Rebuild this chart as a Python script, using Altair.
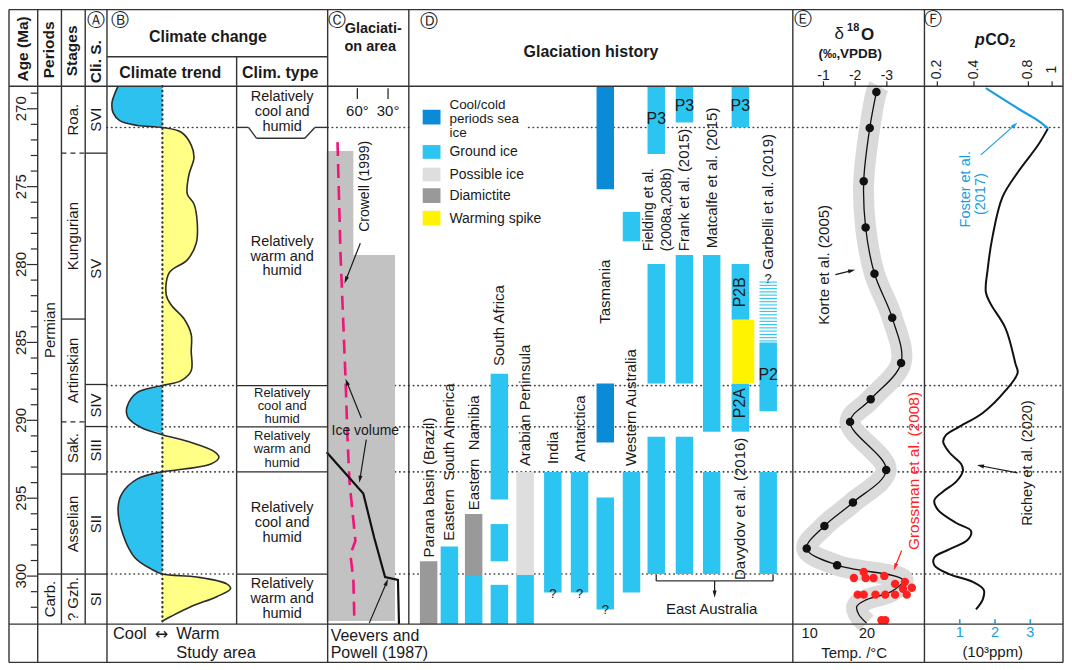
import altair as alt
import numpy as np
import pandas as pd

# ======================= values =======================
age_major = [270, 275, 280, 285, 290, 295, 300]
age_minor = list(range(269, 303))
AGE_TOP_DATA, AGE_BOT_DATA = 268.55, 303.08

period_names = ["Permian", "Carb."]
period_bounds = [268.55, 299.87, 303.08]

stage_names = ["Roa.", "Kungurian", "Artinskian", "Sak.", "Asselian", "? Gzh."]
stage_bounds = [268.55, 272.85, 283.5, 290.1, 293.45, 299.87, 303.08]
stage_dashed = [True, False, True, False, False]

clis_names = ["SVI", "SV", "SIV", "SIII", "SII", "SI"]
clis_bounds = [268.55, 272.85, 287.7, 290.4, 293.45, 299.87, 303.08]

clim_bounds = [271.20, 287.77, 290.42, 293.31, 299.87]
clim_kind = ["cool", "warm", "cool", "warm", "cool", "warm"]

# climate trend (negative = cool, positive = warm), relative index
clim_age = [268.55, 269.18, 269.62, 270.25, 270.76, 271.07, 271.20,
            271.51, 272.33, 273.15, 274.22, 275.48, 276.11, 277.37, 278.63, 279.70,
            280.52, 281.97, 282.60, 283.48, 284.49, 285.56, 286.82, 287.45, 287.77,
            288.21, 289.16, 289.79, 290.48, 290.92,
            291.42, 291.99, 292.37, 292.81, 293.13, 293.31,
            293.76, 294.70, 295.65, 297.35, 298.80, 299.55, 299.87,
            300.06, 300.50, 300.81, 301.32, 301.95, 302.58, 302.89]
clim_val = [-0.80, -0.875, -0.91, -0.89, -0.77, -0.45, 0.0,
            0.34, 0.52, 0.57, 0.48, 0.45, 0.57, 0.63, 0.61, 0.45,
            0.125, 0.07, 0.16, 0.39, 0.52, 0.52, 0.52, 0.34, 0.0,
            -0.45, -0.64, -0.625, -0.375, 0.0,
            0.52, 0.93, 1.02, 0.875, 0.39, 0.0,
            -0.45, -0.73, -0.80, -0.71, -0.50, -0.20, 0.0,
            0.625, 1.16, 1.23, 0.98, 0.52, 0.16, 0.0]

# glaciation area (latitude, degrees)
glac_top = [272.71, 279.39]
glac_bottom = [279.39, 302.89]
glac_lat = [63.9, 23.2]
crowell_age = [272.14, 279.3, 287.26, 291.05, 293.95, 297.73, 298.61, 300.25, 302.89]
crowell_lat = [79.4, 76.5, 71.6, 69.7, 67.7, 61.9, 66.8, 63.9, 62.9]
veevers_age = [292.05, 294.70, 297.54, 300.06, 300.25, 303.08]
veevers_lat = [90.0, 54.2, 43.5, 32.9, 20.3, 19.3]
lat_ticks = [60, 30]

# glaciation history
hist_regions = ["Parana basin (Brazil)", "Eastern\u00a0 South America", "Eastern\u00a0 Namibia",
                "South Africa", "Arabian Peninsula", "India", "Antarctica", "Tasmania",
                "Western Australia", "Fielding et al. (2008a,208b)", "Frank et al. (2015)",
                "Matcalfe et al. (2015)", "Davydov et al. (2016)", "Garbelli et al. (2019)"]
ice_types = ["Cool/cold periods sea ice", "Ground ice", "Possible ice", "Diamictite", "Warming spike"]
type_code = {"S": ice_types[0], "G": ice_types[1], "P": ice_types[2], "D": ice_types[3], "W": ice_types[4]}
bar_col = [0, 1, 2, 2, 3, 3, 3, 4, 4, 5, 6, 7, 7, 7, 8, 8, 9, 9, 9, 10, 10, 10, 11, 11, 12, 12, 12, 12, 13, 13]
bar_start = [299.05, 298.10, 296.02, 299.99, 287.01, 296.66, 300.56, 293.31, 299.93, 293.31, 293.31,
             268.55, 287.64, 294.95, 276.62, 293.31, 268.55, 279.96, 291.05, 268.55, 279.39, 291.05,
             279.39, 293.31, 268.55, 279.96, 283.55, 287.64, 285.00, 293.31]
bar_end = [303.08, 303.08, 299.99, 303.08, 295.08, 299.05, 303.08, 299.93, 303.08, 301.06, 301.06,
           275.17, 291.42, 302.14, 278.51, 301.06, 272.90, 287.64, 299.87, 270.88, 287.64, 299.87,
           290.73, 299.87, 271.20, 283.55, 287.64, 290.73, 289.41, 299.87]
bar_type = ["D", "G", "D", "G", "G", "G", "G", "P", "G", "G", "G",
            "S", "S", "G", "G", "G", "G", "G", "G", "G", "G", "G",
            "G", "G", "G", "G", "W", "G", "G", "G"]
garbelli_hatch = (281.09, 284.93)

# delta18O (permil VPDB)
korte_age = [268.93, 271.24, 274.66, 277.62, 280.59, 283.42, 286.32, 288.65, 290.10,
             293.19, 295.27, 296.78, 298.23, 299.30]
korte_d18o = [-2.67, -2.46, -2.27, -2.33, -2.61, -3.17, -3.45, -2.49, -1.84,
              -2.98, -1.93, -1.03, -0.47, -1.43]
trend_tail_age = [300.25, 301.00, 301.51, 301.95, 302.45, 303.02]
trend_tail_d18o = [-3.51, -3.14, -2.36, -2.05, -2.11, -2.36]
band_head_age, band_head_d18o = [268.55], [-2.75]
gross_age = [300.12, 299.74, 300.12, 300.12, 299.99, 300.50, 300.37, 300.81, 300.75,
             301.19, 301.19, 301.19, 301.19, 301.19, 301.19, 302.83, 302.83]
gross_d18o = [-1.96, -2.27, -2.33, -2.58, -2.92, -3.26, -3.57, -3.51, -3.79,
              -3.63, -2.08, -2.27, -2.64, -2.95, -3.26, -2.83, -2.95]
d18o_ticks = [-1, -2, -3]
temp_ticks = [10, 20]

# pCO2 (10^3 ppm)
foster_age = [268.68, 270.00, 270.76, 271.26]
foster_pco2 = [1.74, 2.66, 3.22, 3.50]
richey_age = [271.26, 272.33, 274.03, 275.67, 278.19, 280.33, 281.78, 282.54, 284.11, 286.38,
              286.95, 288.08, 289.53, 290.42, 290.92, 291.36, 292.05, 292.81, 293.25, 293.94,
              294.57, 295.14, 295.77, 296.59, 297.10, 297.66, 298.29, 298.80, 299.30, 299.87,
              300.37, 300.88, 301.51, 302.14]
richey_pco2 = [3.50, 3.22, 2.66, 2.21, 1.93, 1.79, 1.74, 1.88, 2.30, 2.58,
               2.64, 2.30, 1.65, 0.98, 0.62, 0.53, 0.70, 1.04, 1.09, 0.90,
               0.53, 0.28, 0.39, 0.90, 1.32, 1.23, 0.70, 0.28, 0.28, 0.70,
               1.37, 1.68, 1.65, 1.46]
pco2_bottom_ticks = [1, 2, 3]
pco2_top_ticks = [0.2, 0.4, 0.8, 1]
pco2_top_labels = ["0.2", "0.4", "0.8", "1"]

# ============================ layout & styles ============================
W, H = 1058, 656
def PX(v): return 1 + (v - 3) * (W - 2) / 1065.0
def PY(v): return 1 + (v - 2) * (H - 2) / 665.0
def AGE(ypx): return 270.0 + (ypx - 103.0) / 15.87

FONT = "Liberation Sans"
INK = "#1a1a1a"
LINE = "#2b2b2b"
COOL = "#2CC1EE"
WARM = "#FFFF85"
RED = "#FF2020"
BLUE = "#1A9CE0"
PINK = "#EE1679"
ice_colors = ["#0B8AD8", "#2CC4F1", "#DEDEDE", "#999999", "#FFF300"]

SX = alt.Scale(domain=[3, 1068], range=[PX(3), PX(1068)], nice=False, zero=False)
SY = alt.Scale(domain=[2, 667], range=[PY(2), PY(667)], nice=False, zero=False)
SA = alt.Scale(domain=[AGE(2), AGE(667)], range=[PY(2), PY(667)], nice=False, zero=False)
SC = alt.Scale(domain=[-1, 1], range=[PX(102), PX(214)], nice=False, zero=False)
SL = alt.Scale(domain=[90, 30], range=[PX(324), PX(386)], nice=False, zero=False)
col_centers = [423, 448, 472.5, 498.5, 524.5, 552.5, 579.5, 605.5, 632, 657, 685.5, 713, 742, 775.5]
SCOL = alt.Scale(domain=list(range(14)), range=[PX(v) for v in col_centers], nice=False, zero=False)
SD = alt.Scale(domain=[-1, -3], range=[PX(826), PX(890)], nice=False, zero=False)
ST = alt.Scale(domain=[10, 20], range=[PX(812), PX(870)], nice=False, zero=False)
SP = alt.Scale(domain=[0, 3], range=[PX(928), PX(1035)], nice=False, zero=False)
SPT = alt.Scale(domain=pco2_top_ticks, range=[PX(941), PX(978), PX(1033), PX(1057)], nice=False, zero=False)
SCOLOR = alt.Scale(domain=ice_types, range=ice_colors)


def X(f, s): return alt.X(f"{f}:Q", scale=s, axis=None)
def Y(f, s): return alt.Y(f"{f}:Q", scale=s, axis=None)


def seg(rows, xs, ys, **mk):
    df = pd.DataFrame(rows, columns=["x", "x2", "y", "y2"])
    return alt.Chart(df).mark_rule(**mk).encode(x=X("x", xs), x2="x2:Q", y=Y("y", ys), y2="y2:Q")


def hseg(rows, xs, ys, **mk):
    df = pd.DataFrame(rows, columns=["x", "x2", "y"])
    return alt.Chart(df).mark_rule(**mk).encode(x=X("x", xs), x2="x2:Q", y=Y("y", ys))


def vseg(rows, xs, ys, **mk):
    df = pd.DataFrame(rows, columns=["x", "y", "y2"])
    return alt.Chart(df).mark_rule(**mk).encode(x=X("x", xs), y=Y("y", ys), y2="y2:Q")


DEF = dict(size=14, weight="normal", style="normal", angle=0, align="center",
           baseline="middle", color=INK, font=FONT)


def T(text, x, y, **kw):
    d = dict(DEF)
    d.update(kw)
    d.update(text=str(text), x=x, y=y)
    return d


def text_layers(rows, xs, ys):
    df = pd.DataFrame(rows)
    out = []
    for (w, st, al, bl, fn), g in df.groupby(["weight", "style", "align", "baseline", "font"]):
        out.append(alt.Chart(g.reset_index(drop=True)).mark_text(
            fontWeight=w, fontStyle=st, align=al, baseline=bl, font=fn).encode(
            x=X("x", xs), y=Y("y", ys), text="text:N",
            angle=alt.Angle("angle:Q", scale=None),
            size=alt.Size("size:Q", scale=None),
            color=alt.Color("color:N", scale=None)))
    return out


def arrows(rows, xs, ys):
    lines, heads = [], []
    r = 3.6
    for x1, y1, x2, y2, c in rows:
        dx, dy = x2 - x1, y2 - y1
        L = float(np.hypot(dx, dy))
        ux, uy = dx / L, dy / L
        cx, cy = x2 - ux * r, y2 - uy * r
        ang = (np.degrees(np.arctan2(ux, -uy)) + 360) % 360
        lines.append(dict(x=x1, y=y1, x2=cx, y2=cy, color=c))
        heads.append(dict(x=cx, y=cy, angle=float(ang), color=c))
    l = alt.Chart(pd.DataFrame(lines)).mark_rule(strokeWidth=1.2).encode(
        x=X("x", xs), x2="x2:Q", y=Y("y", ys), y2="y2:Q", color=alt.Color("color:N", scale=None))
    h = alt.Chart(pd.DataFrame(heads)).mark_point(
        shape="M0,-1L0.55,1L-0.55,1Z", filled=True, size=52, opacity=1, strokeWidth=0).encode(
        x=X("x", xs), y=Y("y", ys), angle=alt.Angle("angle:Q", scale=None),
        color=alt.Color("color:N", scale=None))
    return [l, h]


def mids(b): return [(b[i] + b[i + 1]) / 2 for i in range(len(b) - 1)]


# ---------------- group: dotted climate boundaries (behind data) ----------------
dot_rows = []
for i, a in enumerate(clim_bounds):
    dot_rows += [(102, 233, a), (325, 407, a), (528 if i == 0 else 407, 1068, a)]
g_dotted = alt.layer(hseg(dot_rows, SX, SA, color="#444", strokeWidth=1.6,
                          strokeDash=[0.5, 4], strokeCap="round"))

# ---------------- group: climate trend ----------------
clim_df = pd.DataFrame({"age": clim_age, "v": clim_val})
clim_df["cool"] = clim_df["v"].clip(upper=0)
clim_df["warm"] = clim_df["v"].clip(lower=0)
clim_df["zero"] = 0.0
cb = alt.Chart(clim_df)
g_clim = alt.layer(
    cb.mark_area(orient="horizontal", interpolate="catmull-rom", color=COOL).encode(
        y=Y("age", SA), x=X("cool", SC), x2="zero:Q"),
    cb.mark_area(orient="horizontal", interpolate="catmull-rom", color=WARM).encode(
        y=Y("age", SA), x=X("warm", SC), x2="zero:Q"),
    cb.mark_line(interpolate="catmull-rom", color=LINE, strokeWidth=1.6).encode(
        y=Y("age", SA), x=X("v", SC), order="age:Q"),
)

# ---------------- group: glaciation area ----------------
glac_df = pd.DataFrame({"top": glac_top, "bot": glac_bottom, "lat": glac_lat, "pole": 90.0})
g_glac = alt.layer(
    alt.Chart(glac_df).mark_rect(color="#C2C2C2").encode(
        x=X("pole", SL), x2="lat:Q", y=Y("top", SA), y2="bot:Q"),
    alt.Chart(pd.DataFrame({"age": crowell_age, "lat": crowell_lat})).mark_line(
        color=PINK, strokeWidth=2.6, strokeDash=[14, 8]).encode(
        x=X("lat", SL), y=Y("age", SA), order="age:Q"),
    alt.Chart(pd.DataFrame({"age": veevers_age, "lat": veevers_lat})).mark_line(
        color="#111", strokeWidth=2.2).encode(
        x=X("lat", SL), y=Y("age", SA), order="age:Q"),
)
g_lat_axis = alt.layer(
    vseg([(v, 82, 93) for v in lat_ticks], SL, SY, color=LINE, strokeWidth=1.3),
    *text_layers([T(f"{v}°", v, 105, size=15) for v in lat_ticks], SL, SY),
)

# ---------------- group: glaciation history ----------------
bars_df = pd.DataFrame({"col": bar_col, "start": bar_start, "end": bar_end,
                        "type": [type_code[c] for c in bar_type]})
normal = bars_df[bars_df["type"] != ice_types[4]].reset_index(drop=True)
spike = bars_df[bars_df["type"] == ice_types[4]].reset_index(drop=True)
hatch = pd.DataFrame({"a": np.arange(garbelli_hatch[0], garbelli_hatch[1], 0.21)})
hatch["a2"] = hatch["a"] + 0.07
hatch["col"] = 13

LS = 15
hist_text = [
    T(hist_regions[0], 0, 298.80, angle=270, align="left", size=LS),
    T(hist_regions[1], 1, 297.73, angle=270, align="left", size=LS),
    T(hist_regions[2], 2, 295.77, angle=270, align="left", size=LS),
    T(hist_regions[3], 3, 286.51, angle=270, align="left", size=LS),
    T(hist_regions[4], 4, 292.94, angle=270, align="left", size=LS),
    T(hist_regions[5], 5, 292.81, angle=270, align="left", size=LS),
    T(hist_regions[6], 6, 292.68, angle=270, align="left", size=LS),
    T(hist_regions[7], 7, 283.80, angle=270, align="left", size=LS),
    T(hist_regions[8], 8, 292.94, angle=270, align="left", size=LS),
    T("Fielding et al.", 8.70, 279.14, angle=270, align="left", size=14),
    T("(2008a,208b)", 9.37, 279.14, angle=270, align="left", size=14),
    T(hist_regions[10], 10, 279.14, angle=270, align="left", size=LS),
    T(hist_regions[11], 11, 278.95, angle=270, align="left", size=LS),
    T(hist_regions[12], 12, 300.25, angle=270, align="left", size=LS),
    T(hist_regions[13], 13, 280.33, angle=270, align="left", size=LS),
    T("P3", 9, 270.69, size=16), T("P3", 10, 269.81, size=16), T("P3", 12, 269.81, size=16),
    T("P2B", 12, 281.78, size=16, angle=270), T("P2A", 12, 288.90, size=16, angle=270),
    T("P2", 13, 287.08, size=16),
    T("?", 5, 301.13, size=13), T("?", 6, 301.13, size=13), T("?", 7, 302.2, size=13),
    T("?", 13, 280.95, size=13),
]
g_hist = alt.layer(
    alt.Chart(normal).mark_bar(size=17.5).encode(
        x=X("col", SCOL), y=Y("start", SA), y2="end:Q",
        color=alt.Color("type:N", scale=SCOLOR, legend=None)),
    alt.Chart(spike).mark_bar(size=22, xOffset=3).encode(
        x=X("col", SCOL), y=Y("start", SA), y2="end:Q",
        color=alt.Color("type:N", scale=SCOLOR, legend=None)),
    alt.Chart(hatch).mark_bar(size=17.5, color=ice_colors[1]).encode(
        x=X("col", SCOL), y=Y("a", SA), y2="a2:Q"),
    *text_layers(hist_text, SCOL, SA),
)

# ---------------- group: delta 18O ----------------
trend_df = pd.DataFrame({"age": korte_age + trend_tail_age, "d": korte_d18o + trend_tail_d18o})
band_df = pd.DataFrame({"age": band_head_age + korte_age + trend_tail_age,
                        "d": band_head_d18o + korte_d18o + trend_tail_d18o})
g_d18o = alt.layer(
    alt.Chart(band_df).mark_line(color="#DADADA", strokeWidth=21, interpolate="catmull-rom",
                                 strokeJoin="round").encode(
        x=X("d", SD), y=Y("age", SA), order="age:Q"),
    alt.Chart(trend_df).mark_line(color="#111", strokeWidth=1.3, interpolate="catmull-rom").encode(
        x=X("d", SD), y=Y("age", SA), order="age:Q"),
    alt.Chart(pd.DataFrame({"age": korte_age, "d": korte_d18o})).mark_circle(
        color="#111", size=72, opacity=1).encode(x=X("d", SD), y=Y("age", SA)),
    alt.Chart(pd.DataFrame({"age": gross_age, "d": gross_d18o})).mark_circle(
        color=RED, size=70, opacity=1).encode(x=X("d", SD), y=Y("age", SA)),
)
g_d18o_axis = alt.layer(
    vseg([(v, 75, 80) for v in d18o_ticks], SD, SY, color=LINE, strokeWidth=1.2),
    *text_layers([T(str(v), v, 70, size=14) for v in d18o_ticks], SD, SY),
)
g_temp_axis = alt.layer(*text_layers([T(str(v), v, 638, size=14.5) for v in temp_ticks], ST, SY))

# ---------------- group: pCO2 ----------------
g_pco2 = alt.layer(
    alt.Chart(pd.DataFrame({"age": richey_age, "p": richey_pco2})).mark_line(
        color="#111", strokeWidth=2, interpolate="catmull-rom").encode(
        x=X("p", SP), y=Y("age", SA), order="age:Q"),
    alt.Chart(pd.DataFrame({"age": foster_age, "p": foster_pco2})).mark_line(
        color=BLUE, strokeWidth=2.2, interpolate="catmull-rom").encode(
        x=X("p", SP), y=Y("age", SA), order="age:Q"),
)
g_pco2_axis = alt.layer(
    vseg([(v, 623, 628) for v in pco2_bottom_ticks], SP, SY, color=BLUE, strokeWidth=1.6),
    *text_layers([T(str(v), v, 637, size=14.5, color=BLUE) for v in pco2_bottom_ticks], SP, SY),
)
g_pco2_top = alt.layer(
    vseg([(v, 75, 80) for v in pco2_top_ticks], SPT, SY, color=LINE, strokeWidth=1.2),
    *text_layers([T(s, v, 63, size=14, angle=270) for v, s in zip(pco2_top_ticks, pco2_top_labels)],
                 SPT, SY),
)

# ---------------- group: age-based structure (stages, ticks, labels) ----------------
stage_solid = [(56, 80, a) for a, d in zip(stage_bounds[1:-1], stage_dashed) if not d]
stage_dash = [(56, 80, a) for a, d in zip(stage_bounds[1:-1], stage_dashed) if d]
clis_lines = [(80, 102, a) for a in clis_bounds[1:-1]]
period_lines = [(32, 56, a) for a in period_bounds[1:-1]]
climtype_lines = [(233, 325, a) for a in clim_bounds[1:]]
tick_minor = [(25, 32, a) for a in age_minor if a not in age_major]
tick_major = [(21, 32, a) for a in age_major]

age_text = [T(str(a), 15, a, angle=270, size=15) for a in age_major]
age_text += [T(n, 44, m, angle=270, size=15) for n, m in zip(period_names, mids(period_bounds))]
age_text += [T(n, 68, m, angle=270, size=15) for n, m in zip(stage_names, mids(stage_bounds))]
age_text += [T(n, 91, m, angle=270, size=15) for n, m in zip(clis_names, mids(clis_bounds))]
edges = [AGE_TOP_DATA] + clim_bounds + [AGE_BOT_DATA]
for i, kind in enumerate(clim_kind):
    a0, a1 = edges[i], edges[i + 1]
    if i == 0:
        a1 += 0.69          # the first box continues into the trapezoid
    m = (a0 + a1) / 2
    small = (a1 - a0) * 15.87 < 50
    sz = 13 if small else 14.5
    step = (13.4 if small else 15.0) / 15.87
    for j, s in enumerate(["Relatively", f"{kind} and", "humid"]):
        age_text.append(T(s, 279, m + (j - 1) * step, size=sz))

g_age = alt.layer(
    hseg(stage_solid + clis_lines + period_lines + climtype_lines, SX, SA, color=LINE, strokeWidth=1.3),
    hseg(stage_dash, SX, SA, color=LINE, strokeWidth=1.3, strokeDash=[5, 4]),
    hseg(tick_minor + tick_major, SX, SA, color=LINE, strokeWidth=1.2),
    *text_layers(age_text, SX, SA),
)

# ---------------- group: page layout (frame, header, legend, notes) ----------------
frame = [
    (3, 1068, 2, 2), (3, 1068, 667, 667), (3, 3, 2, 667), (1068, 1068, 2, 667),
    (3, 1068, 80, 80), (3, 1068, 628, 628), (102, 325, 50, 50),
    (32, 32, 2, 667), (56, 56, 2, 628), (80, 80, 2, 628), (102, 102, 2, 667),
    (233, 233, 50, 628), (325, 325, 2, 667), (407, 407, 2, 628),
    (795, 795, 2, 667), (928, 928, 2, 667),
    (233, 245, 122, 122), (245, 253, 122, 133), (253, 302, 133, 133),
    (302, 312, 133, 122), (312, 325, 122, 122),
    (657, 775, 584, 584), (657, 657, 578, 584), (775, 775, 578, 584),
]
legend_df = pd.DataFrame({"type": ice_types, "x": 421, "x2": 439,
                          "y": [104, 140, 163, 184, 207], "y2": [119, 154, 177, 199, 222]})
layout_text = [
    T("Age (Ma)", 17, 42, size=15.5, weight="bold", angle=270),
    T("Periods", 43, 43, size=15.5, weight="bold", angle=270),
    T("Stages", 67, 44, size=15.5, weight="bold", angle=270),
    T("Cli. S.", 91, 55, size=15.5, weight="bold", angle=270),
    T("Ⓐ", 91, 14, size=18, font="DejaVu Sans"),
    T("Ⓑ", 115, 14, size=18, font="DejaVu Sans"),
    T("Climate change", 204, 30, size=16, weight="bold"),
    T("Climate trend", 166, 67, size=16, weight="bold"),
    T("Clim. type", 277, 67, size=16, weight="bold"),
    T("Ⓒ", 334, 14, size=18, font="DejaVu Sans"),
    T("Glaciati-", 371, 22, size=14.5, weight="bold"),
    T("on area", 368, 40, size=14.5, weight="bold"),
    T("Ⓓ", 427, 15, size=18, font="DejaVu Sans"),
    T("Glaciation history", 591, 45, size=16, weight="bold"),
    T("Ⓔ", 805, 13, size=18, font="DejaVu Sans"),
    T("δ", 842, 27, size=17),
    T("18", 856, 21, size=11, weight="bold"),
    T("O", 870.5, 28, size=17, weight="bold"),
    T("(‰,VPDB)", 853, 47.5, size=13.5, weight="bold"),
    T("Ⓕ", 937, 13, size=18, font="DejaVu Sans"),
    T("p", 984, 33, size=16, weight="bold", style="italic"),
    T("CO", 1001.5, 33, size=16, weight="bold"),
    T("2", 1017, 37, size=10.5, weight="bold"),
    T("Cool/cold", 448, 99.5, align="left", size=13.5),
    T("periods sea", 448, 113.5, align="left", size=13.5),
    T("ice", 448, 127.5, align="left", size=13.5),
    T("Ground ice", 448, 147, align="left"),
    T("Possible ice", 448, 170, align="left"),
    T("Diamictite", 448, 192, align="left"),
    T("Warming spike", 448, 215, align="left"),
    T("Crowell (1999)", 363, 182, angle=270),
    T("Ice volume", 363, 431, size=14),
    T("Korte et al. (2005)", 827, 262, angle=270, size=15),
    T("Grossman et al. (2008)", 917, 472, angle=270, size=15.5, color=RED),
    T("Foster et al.", 970, 185, angle=270, size=14.5, color=BLUE),
    T("(2017)", 985, 190, angle=270, size=14.5, color=BLUE),
    T("Richey et al. (2020)", 1033, 464, angle=270, size=14.5),
    T("East Australia", 713, 613, size=15),
    T("Cool", 108, 638, size=16.5, align="left"),
    T("↔", 157, 638, size=16, font="DejaVu Sans"),
    T("Warm", 172, 638, size=16.5, align="left"),
    T("Study area", 172, 657, size=16.5, align="left"),
    T("Veevers and", 328, 640, size=16, align="left"),
    T("Powell (1987)", 328, 657, size=16, align="left"),
    T("Temp. /°C", 857, 657, size=15),
    T("(10³ppm)", 997, 656, size=15),
]
arrow_rows = [
    (358, 240, 342, 281, INK), (359, 418, 343, 378, INK), (364, 440, 357, 484, INK),
    (367, 627, 386, 582, INK), (838, 272, 858, 267, INK), (905, 553, 897, 573, RED),
    (985, 150, 1022, 117, BLUE), (1022, 474, 981, 466, INK), (716, 584, 716, 601, INK),
]
g_layout = alt.layer(
    vseg([(158, 80, 628)], SX, SY, color="#333", strokeWidth=2.2, strokeDash=[0.5, 4.2], strokeCap="round"),
    seg(frame, SX, SY, color="#333", strokeWidth=1.4),
    alt.Chart(legend_df).mark_rect().encode(
        x=X("x", SX), x2="x2:Q", y=Y("y", SY), y2="y2:Q",
        color=alt.Color("type:N", scale=SCOLOR, legend=None)),
    *arrows(arrow_rows, SX, SY),
    *text_layers(layout_text, SX, SY),
)

groups = [g_dotted, g_clim, g_glac, g_hist, g_d18o, g_pco2, g_age, g_layout,
          g_lat_axis, g_d18o_axis, g_temp_axis, g_pco2_axis, g_pco2_top]

chart = alt.layer(*groups).resolve_scale(x="independent", y="independent").properties(
    width=W, height=H, padding=0, background="white",
    autosize=alt.AutoSizeParams(type="none"),
).configure_view(stroke=None)

chart.save("out.html", embed_options={"renderer": "svg", "actions": False})
